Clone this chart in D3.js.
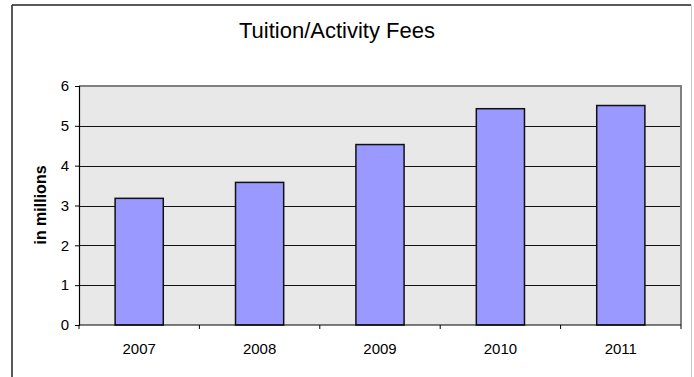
<!DOCTYPE html>
<html>
<head>
<meta charset="utf-8">
<script src="https://cdn.jsdelivr.net/npm/d3@7"></script>
<style>
  html, body { margin: 0; padding: 0; background: #fff; }
  svg { display: block; font-family: Arial, "Liberation Sans", sans-serif; }
</style>
</head>
<body>
<svg id="chart" width="694" height="377"></svg>
<script>
// Tuition / activity fee revenue by year, in millions
const years = ["2007", "2008", "2009", "2010", "2011"];
const fees = [3.18, 3.58, 4.53, 5.43, 5.51];
const yTicks = [0, 1, 2, 3, 4, 5, 6];

const svg = d3.select("#chart");
const W = 694, H = 377;
const plot = { left: 79, right: 681, top: 86, bottom: 325 };

// Outer chart frame
svg.append("line").attr("x1", 12).attr("x2", 12).attr("y1", 5).attr("y2", H)
  .attr("stroke", "#222").attr("stroke-width", 1.5);
svg.append("line").attr("x1", 12).attr("x2", 691).attr("y1", 5).attr("y2", 5)
  .attr("stroke", "#222").attr("stroke-width", 1.5);
svg.append("line").attr("x1", 691.5).attr("x2", 691.5).attr("y1", 5).attr("y2", H)
  .attr("stroke", "#c8c8c8").attr("stroke-width", 1);

const x = d3.scaleBand().domain(years).range([plot.left, plot.right])
  .paddingInner(0.6).paddingOuter(0.3);
const xCat = d3.scaleBand().domain(years).range([plot.left, plot.right]);
const y = d3.scaleLinear().domain([0, 6]).range([plot.bottom, plot.top]);

// Plot area background
svg.append("rect")
  .attr("x", plot.left).attr("y", plot.top)
  .attr("width", plot.right - plot.left).attr("height", plot.bottom - plot.top)
  .attr("fill", "#e8e8e8");

// Horizontal gridlines
svg.append("g").selectAll("line")
  .data(yTicks.filter(t => t > 0 && t < 6))
  .join("line")
  .attr("x1", plot.left).attr("x2", plot.right)
  .attr("y1", d => Math.round(y(d)) + 0.5).attr("y2", d => Math.round(y(d)) + 0.5)
  .attr("stroke", "#111").attr("stroke-width", 1);

// Plot border (top and right)
svg.append("path")
  .attr("d", `M${plot.left},${plot.top}H${plot.right}V${plot.bottom}`)
  .attr("fill", "none").attr("stroke", "#808080").attr("stroke-width", 2);

// Bars
svg.append("g").selectAll("rect")
  .data(years.map((yr, i) => ({ yr, v: fees[i] })))
  .join("rect")
  .attr("x", d => x(d.yr))
  .attr("y", d => y(d.v))
  .attr("width", x.bandwidth())
  .attr("height", d => y(0) - y(d.v))
  .attr("fill", "#9999ff")
  .attr("stroke", "#111")
  .attr("stroke-width", 1.5);

// Y axis
const yAxis = d3.axisLeft(y).tickValues(yTicks).tickFormat(d3.format("d"))
  .tickSize(4).tickPadding(6);
const gy = svg.append("g").attr("transform", `translate(${plot.left},0)`).call(yAxis);
gy.select(".domain").attr("stroke", "#000").attr("stroke-width", 1.2);
gy.selectAll(".tick line").attr("stroke", "#000");
gy.selectAll(".tick text").attr("font-size", 15).attr("fill", "#000")
  .attr("font-family", "Arial, 'Liberation Sans', sans-serif");

// X axis: ticks at category boundaries
const gx = svg.append("g").attr("transform", `translate(0,${plot.bottom})`);
gx.append("line").attr("x1", plot.left).attr("x2", plot.right)
  .attr("y1", 0).attr("y2", 0).attr("stroke", "#000").attr("stroke-width", 1.2);
const bounds = years.map(yr => xCat(yr)).concat([plot.right]);
gx.selectAll(".tk").data(bounds).join("line")
  .attr("x1", d => d).attr("x2", d => d).attr("y1", 0).attr("y2", 4)
  .attr("stroke", "#000");
gx.selectAll(".lbl").data(years).join("text")
  .attr("x", d => xCat(d) + xCat.bandwidth() / 2)
  .attr("y", 29)
  .attr("text-anchor", "middle")
  .attr("font-size", 15)
  .attr("fill", "#000")
  .text(d => d);

// Title
svg.append("text")
  .attr("x", 337).attr("y", 38)
  .attr("text-anchor", "middle")
  .attr("font-size", 22)
  .attr("fill", "#000")
  .text("Tuition/Activity Fees");

// Y axis title
svg.append("text")
  .attr("transform", "translate(46,205) rotate(-90)")
  .attr("text-anchor", "middle")
  .attr("font-size", 16)
  .attr("font-weight", "bold")
  .attr("fill", "#000")
  .text("in millions");
</script>
</body>
</html>
